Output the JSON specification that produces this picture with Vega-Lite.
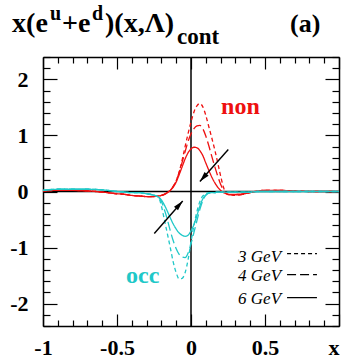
{
  "$schema": "https://vega.github.io/schema/vega-lite/v6.json",
  "width": 296,
  "height": 269,
  "autosize": {"type": "none"},
  "padding": {"left": 43, "top": 57, "right": 6, "bottom": 36},
  "background": "white",
  "config": {
    "view": {"stroke": null},
    "axis": {"grid": false, "domainColor": "black", "domainWidth": 1.5, "tickColor": "black", "tickWidth": 1.2, "labelFont": "Liberation Serif", "labelFontWeight": "bold", "labelFontSize": 22, "labelColor": "black", "labelOverlap": false, "labelFlush": false, "labelBound": false}
  },
  "datasets": {
    "curves": [
      {"x":-1,"y":0.01,"t":"non","q":"3 GeV"},{"x":-0.9,"y":0.02,"t":"non","q":"3 GeV"},{"x":-0.8,"y":0.02,"t":"non","q":"3 GeV"},{"x":-0.7,"y":0.01,"t":"non","q":"3 GeV"},{"x":-0.6,"y":-0.01,"t":"non","q":"3 GeV"},{"x":-0.5,"y":-0.04,"t":"non","q":"3 GeV"},{"x":-0.45,"y":-0.05,"t":"non","q":"3 GeV"},{"x":-0.4,"y":-0.07,"t":"non","q":"3 GeV"},{"x":-0.35,"y":-0.08,"t":"non","q":"3 GeV"},{"x":-0.3,"y":-0.09,"t":"non","q":"3 GeV"},{"x":-0.26,"y":-0.09,"t":"non","q":"3 GeV"},{"x":-0.22,"y":-0.08,"t":"non","q":"3 GeV"},{"x":-0.2,"y":-0.07,"t":"non","q":"3 GeV"},{"x":-0.18,"y":-0.05,"t":"non","q":"3 GeV"},{"x":-0.16,"y":-0.02,"t":"non","q":"3 GeV"},{"x":-0.14,"y":0.02,"t":"non","q":"3 GeV"},{"x":-0.12,"y":0.09,"t":"non","q":"3 GeV"},{"x":-0.1,"y":0.19,"t":"non","q":"3 GeV"},{"x":-0.08,"y":0.35,"t":"non","q":"3 GeV"},{"x":-0.06,"y":0.56,"t":"non","q":"3 GeV"},{"x":-0.04,"y":0.8,"t":"non","q":"3 GeV"},{"x":-0.02,"y":1.03,"t":"non","q":"3 GeV"},{"x":0,"y":1.24,"t":"non","q":"3 GeV"},{"x":0.02,"y":1.42,"t":"non","q":"3 GeV"},{"x":0.04,"y":1.53,"t":"non","q":"3 GeV"},{"x":0.06,"y":1.57,"t":"non","q":"3 GeV"},{"x":0.08,"y":1.51,"t":"non","q":"3 GeV"},{"x":0.1,"y":1.36,"t":"non","q":"3 GeV"},{"x":0.12,"y":1.16,"t":"non","q":"3 GeV"},{"x":0.14,"y":0.96,"t":"non","q":"3 GeV"},{"x":0.16,"y":0.75,"t":"non","q":"3 GeV"},{"x":0.18,"y":0.52,"t":"non","q":"3 GeV"},{"x":0.2,"y":0.28,"t":"non","q":"3 GeV"},{"x":0.22,"y":0.07,"t":"non","q":"3 GeV"},{"x":0.24,"y":-0.04,"t":"non","q":"3 GeV"},{"x":0.26,"y":-0.06,"t":"non","q":"3 GeV"},{"x":0.3,"y":-0.07,"t":"non","q":"3 GeV"},{"x":0.35,"y":-0.05,"t":"non","q":"3 GeV"},{"x":0.4,"y":-0.02,"t":"non","q":"3 GeV"},{"x":0.45,"y":0.01,"t":"non","q":"3 GeV"},{"x":0.5,"y":0.02,"t":"non","q":"3 GeV"},{"x":0.6,"y":0.02,"t":"non","q":"3 GeV"},{"x":0.7,"y":0.01,"t":"non","q":"3 GeV"},{"x":0.8,"y":0,"t":"non","q":"3 GeV"},{"x":0.9,"y":0,"t":"non","q":"3 GeV"},{"x":1,"y":0,"t":"non","q":"3 GeV"},
      {"x":-1,"y":0.01,"t":"non","q":"4 GeV"},{"x":-0.9,"y":0.02,"t":"non","q":"4 GeV"},{"x":-0.8,"y":0.02,"t":"non","q":"4 GeV"},{"x":-0.7,"y":0.01,"t":"non","q":"4 GeV"},{"x":-0.6,"y":-0.01,"t":"non","q":"4 GeV"},{"x":-0.5,"y":-0.04,"t":"non","q":"4 GeV"},{"x":-0.45,"y":-0.05,"t":"non","q":"4 GeV"},{"x":-0.4,"y":-0.07,"t":"non","q":"4 GeV"},{"x":-0.35,"y":-0.08,"t":"non","q":"4 GeV"},{"x":-0.3,"y":-0.09,"t":"non","q":"4 GeV"},{"x":-0.26,"y":-0.09,"t":"non","q":"4 GeV"},{"x":-0.22,"y":-0.08,"t":"non","q":"4 GeV"},{"x":-0.2,"y":-0.07,"t":"non","q":"4 GeV"},{"x":-0.18,"y":-0.05,"t":"non","q":"4 GeV"},{"x":-0.16,"y":-0.02,"t":"non","q":"4 GeV"},{"x":-0.14,"y":0.02,"t":"non","q":"4 GeV"},{"x":-0.12,"y":0.09,"t":"non","q":"4 GeV"},{"x":-0.1,"y":0.19,"t":"non","q":"4 GeV"},{"x":-0.08,"y":0.34,"t":"non","q":"4 GeV"},{"x":-0.06,"y":0.52,"t":"non","q":"4 GeV"},{"x":-0.04,"y":0.71,"t":"non","q":"4 GeV"},{"x":-0.02,"y":0.89,"t":"non","q":"4 GeV"},{"x":0,"y":1.03,"t":"non","q":"4 GeV"},{"x":0.02,"y":1.12,"t":"non","q":"4 GeV"},{"x":0.04,"y":1.17,"t":"non","q":"4 GeV"},{"x":0.06,"y":1.18,"t":"non","q":"4 GeV"},{"x":0.08,"y":1.12,"t":"non","q":"4 GeV"},{"x":0.1,"y":0.99,"t":"non","q":"4 GeV"},{"x":0.12,"y":0.82,"t":"non","q":"4 GeV"},{"x":0.14,"y":0.63,"t":"non","q":"4 GeV"},{"x":0.16,"y":0.45,"t":"non","q":"4 GeV"},{"x":0.18,"y":0.28,"t":"non","q":"4 GeV"},{"x":0.2,"y":0.13,"t":"non","q":"4 GeV"},{"x":0.22,"y":0.02,"t":"non","q":"4 GeV"},{"x":0.24,"y":-0.04,"t":"non","q":"4 GeV"},{"x":0.26,"y":-0.06,"t":"non","q":"4 GeV"},{"x":0.3,"y":-0.06,"t":"non","q":"4 GeV"},{"x":0.35,"y":-0.05,"t":"non","q":"4 GeV"},{"x":0.4,"y":-0.02,"t":"non","q":"4 GeV"},{"x":0.45,"y":0.01,"t":"non","q":"4 GeV"},{"x":0.5,"y":0.02,"t":"non","q":"4 GeV"},{"x":0.6,"y":0.02,"t":"non","q":"4 GeV"},{"x":0.7,"y":0.01,"t":"non","q":"4 GeV"},{"x":0.8,"y":0,"t":"non","q":"4 GeV"},{"x":0.9,"y":0,"t":"non","q":"4 GeV"},{"x":1,"y":0,"t":"non","q":"4 GeV"},
      {"x":-1,"y":0.01,"t":"non","q":"6 GeV"},{"x":-0.9,"y":0.02,"t":"non","q":"6 GeV"},{"x":-0.8,"y":0.02,"t":"non","q":"6 GeV"},{"x":-0.7,"y":0.01,"t":"non","q":"6 GeV"},{"x":-0.6,"y":-0.01,"t":"non","q":"6 GeV"},{"x":-0.5,"y":-0.04,"t":"non","q":"6 GeV"},{"x":-0.45,"y":-0.05,"t":"non","q":"6 GeV"},{"x":-0.4,"y":-0.07,"t":"non","q":"6 GeV"},{"x":-0.35,"y":-0.08,"t":"non","q":"6 GeV"},{"x":-0.3,"y":-0.09,"t":"non","q":"6 GeV"},{"x":-0.26,"y":-0.09,"t":"non","q":"6 GeV"},{"x":-0.22,"y":-0.08,"t":"non","q":"6 GeV"},{"x":-0.2,"y":-0.07,"t":"non","q":"6 GeV"},{"x":-0.18,"y":-0.05,"t":"non","q":"6 GeV"},{"x":-0.16,"y":-0.02,"t":"non","q":"6 GeV"},{"x":-0.14,"y":0.02,"t":"non","q":"6 GeV"},{"x":-0.12,"y":0.08,"t":"non","q":"6 GeV"},{"x":-0.1,"y":0.17,"t":"non","q":"6 GeV"},{"x":-0.08,"y":0.3,"t":"non","q":"6 GeV"},{"x":-0.06,"y":0.44,"t":"non","q":"6 GeV"},{"x":-0.04,"y":0.58,"t":"non","q":"6 GeV"},{"x":-0.02,"y":0.69,"t":"non","q":"6 GeV"},{"x":0,"y":0.76,"t":"non","q":"6 GeV"},{"x":0.02,"y":0.79,"t":"non","q":"6 GeV"},{"x":0.04,"y":0.78,"t":"non","q":"6 GeV"},{"x":0.06,"y":0.73,"t":"non","q":"6 GeV"},{"x":0.08,"y":0.64,"t":"non","q":"6 GeV"},{"x":0.1,"y":0.51,"t":"non","q":"6 GeV"},{"x":0.12,"y":0.38,"t":"non","q":"6 GeV"},{"x":0.14,"y":0.26,"t":"non","q":"6 GeV"},{"x":0.16,"y":0.16,"t":"non","q":"6 GeV"},{"x":0.18,"y":0.08,"t":"non","q":"6 GeV"},{"x":0.2,"y":0.02,"t":"non","q":"6 GeV"},{"x":0.22,"y":-0.02,"t":"non","q":"6 GeV"},{"x":0.24,"y":-0.04,"t":"non","q":"6 GeV"},{"x":0.26,"y":-0.05,"t":"non","q":"6 GeV"},{"x":0.3,"y":-0.05,"t":"non","q":"6 GeV"},{"x":0.35,"y":-0.04,"t":"non","q":"6 GeV"},{"x":0.4,"y":-0.02,"t":"non","q":"6 GeV"},{"x":0.45,"y":0.01,"t":"non","q":"6 GeV"},{"x":0.5,"y":0.02,"t":"non","q":"6 GeV"},{"x":0.6,"y":0.02,"t":"non","q":"6 GeV"},{"x":0.7,"y":0.01,"t":"non","q":"6 GeV"},{"x":0.8,"y":0,"t":"non","q":"6 GeV"},{"x":0.9,"y":0,"t":"non","q":"6 GeV"},{"x":1,"y":0,"t":"non","q":"6 GeV"},
      {"x":-1,"y":0.02,"t":"occ","q":"3 GeV"},{"x":-0.9,"y":0.04,"t":"occ","q":"3 GeV"},{"x":-0.8,"y":0.04,"t":"occ","q":"3 GeV"},{"x":-0.7,"y":0.04,"t":"occ","q":"3 GeV"},{"x":-0.6,"y":0.03,"t":"occ","q":"3 GeV"},{"x":-0.5,"y":0,"t":"occ","q":"3 GeV"},{"x":-0.45,"y":-0.01,"t":"occ","q":"3 GeV"},{"x":-0.4,"y":-0.02,"t":"occ","q":"3 GeV"},{"x":-0.35,"y":-0.02,"t":"occ","q":"3 GeV"},{"x":-0.3,"y":-0.04,"t":"occ","q":"3 GeV"},{"x":-0.26,"y":-0.06,"t":"occ","q":"3 GeV"},{"x":-0.22,"y":-0.1,"t":"occ","q":"3 GeV"},{"x":-0.2,"y":-0.26,"t":"occ","q":"3 GeV"},{"x":-0.18,"y":-0.5,"t":"occ","q":"3 GeV"},{"x":-0.16,"y":-0.75,"t":"occ","q":"3 GeV"},{"x":-0.14,"y":-1,"t":"occ","q":"3 GeV"},{"x":-0.12,"y":-1.26,"t":"occ","q":"3 GeV"},{"x":-0.1,"y":-1.45,"t":"occ","q":"3 GeV"},{"x":-0.08,"y":-1.56,"t":"occ","q":"3 GeV"},{"x":-0.06,"y":-1.55,"t":"occ","q":"3 GeV"},{"x":-0.04,"y":-1.45,"t":"occ","q":"3 GeV"},{"x":-0.02,"y":-1.22,"t":"occ","q":"3 GeV"},{"x":0,"y":-0.9,"t":"occ","q":"3 GeV"},{"x":0.02,"y":-0.6,"t":"occ","q":"3 GeV"},{"x":0.04,"y":-0.36,"t":"occ","q":"3 GeV"},{"x":0.06,"y":-0.18,"t":"occ","q":"3 GeV"},{"x":0.08,"y":-0.08,"t":"occ","q":"3 GeV"},{"x":0.1,"y":-0.04,"t":"occ","q":"3 GeV"},{"x":0.12,"y":-0.02,"t":"occ","q":"3 GeV"},{"x":0.14,"y":-0.02,"t":"occ","q":"3 GeV"},{"x":0.16,"y":-0.02,"t":"occ","q":"3 GeV"},{"x":0.18,"y":-0.01,"t":"occ","q":"3 GeV"},{"x":0.2,"y":-0.01,"t":"occ","q":"3 GeV"},{"x":0.22,"y":-0.01,"t":"occ","q":"3 GeV"},{"x":0.24,"y":-0.01,"t":"occ","q":"3 GeV"},{"x":0.26,"y":-0.01,"t":"occ","q":"3 GeV"},{"x":0.3,"y":-0.01,"t":"occ","q":"3 GeV"},{"x":0.35,"y":-0.01,"t":"occ","q":"3 GeV"},{"x":0.4,"y":-0.01,"t":"occ","q":"3 GeV"},{"x":0.45,"y":0,"t":"occ","q":"3 GeV"},{"x":0.5,"y":0,"t":"occ","q":"3 GeV"},{"x":0.6,"y":0,"t":"occ","q":"3 GeV"},{"x":0.7,"y":0,"t":"occ","q":"3 GeV"},{"x":0.8,"y":0,"t":"occ","q":"3 GeV"},{"x":0.9,"y":0,"t":"occ","q":"3 GeV"},{"x":1,"y":0,"t":"occ","q":"3 GeV"},
      {"x":-1,"y":0.02,"t":"occ","q":"4 GeV"},{"x":-0.9,"y":0.04,"t":"occ","q":"4 GeV"},{"x":-0.8,"y":0.04,"t":"occ","q":"4 GeV"},{"x":-0.7,"y":0.04,"t":"occ","q":"4 GeV"},{"x":-0.6,"y":0.03,"t":"occ","q":"4 GeV"},{"x":-0.5,"y":0,"t":"occ","q":"4 GeV"},{"x":-0.45,"y":-0.01,"t":"occ","q":"4 GeV"},{"x":-0.4,"y":-0.02,"t":"occ","q":"4 GeV"},{"x":-0.35,"y":-0.02,"t":"occ","q":"4 GeV"},{"x":-0.3,"y":-0.04,"t":"occ","q":"4 GeV"},{"x":-0.26,"y":-0.06,"t":"occ","q":"4 GeV"},{"x":-0.22,"y":-0.1,"t":"occ","q":"4 GeV"},{"x":-0.2,"y":-0.18,"t":"occ","q":"4 GeV"},{"x":-0.18,"y":-0.32,"t":"occ","q":"4 GeV"},{"x":-0.16,"y":-0.5,"t":"occ","q":"4 GeV"},{"x":-0.14,"y":-0.7,"t":"occ","q":"4 GeV"},{"x":-0.12,"y":-0.88,"t":"occ","q":"4 GeV"},{"x":-0.1,"y":-1.02,"t":"occ","q":"4 GeV"},{"x":-0.08,"y":-1.12,"t":"occ","q":"4 GeV"},{"x":-0.06,"y":-1.17,"t":"occ","q":"4 GeV"},{"x":-0.04,"y":-1.18,"t":"occ","q":"4 GeV"},{"x":-0.02,"y":-1.1,"t":"occ","q":"4 GeV"},{"x":0,"y":-0.93,"t":"occ","q":"4 GeV"},{"x":0.02,"y":-0.73,"t":"occ","q":"4 GeV"},{"x":0.04,"y":-0.52,"t":"occ","q":"4 GeV"},{"x":0.06,"y":-0.32,"t":"occ","q":"4 GeV"},{"x":0.08,"y":-0.16,"t":"occ","q":"4 GeV"},{"x":0.1,"y":-0.07,"t":"occ","q":"4 GeV"},{"x":0.12,"y":-0.03,"t":"occ","q":"4 GeV"},{"x":0.14,"y":-0.02,"t":"occ","q":"4 GeV"},{"x":0.16,"y":-0.02,"t":"occ","q":"4 GeV"},{"x":0.18,"y":-0.01,"t":"occ","q":"4 GeV"},{"x":0.2,"y":-0.01,"t":"occ","q":"4 GeV"},{"x":0.22,"y":-0.01,"t":"occ","q":"4 GeV"},{"x":0.24,"y":-0.01,"t":"occ","q":"4 GeV"},{"x":0.26,"y":-0.01,"t":"occ","q":"4 GeV"},{"x":0.3,"y":-0.01,"t":"occ","q":"4 GeV"},{"x":0.35,"y":-0.01,"t":"occ","q":"4 GeV"},{"x":0.4,"y":-0.01,"t":"occ","q":"4 GeV"},{"x":0.45,"y":0,"t":"occ","q":"4 GeV"},{"x":0.5,"y":0,"t":"occ","q":"4 GeV"},{"x":0.6,"y":0,"t":"occ","q":"4 GeV"},{"x":0.7,"y":0,"t":"occ","q":"4 GeV"},{"x":0.8,"y":0,"t":"occ","q":"4 GeV"},{"x":0.9,"y":0,"t":"occ","q":"4 GeV"},{"x":1,"y":0,"t":"occ","q":"4 GeV"},
      {"x":-1,"y":0.02,"t":"occ","q":"6 GeV"},{"x":-0.9,"y":0.04,"t":"occ","q":"6 GeV"},{"x":-0.8,"y":0.04,"t":"occ","q":"6 GeV"},{"x":-0.7,"y":0.04,"t":"occ","q":"6 GeV"},{"x":-0.6,"y":0.03,"t":"occ","q":"6 GeV"},{"x":-0.5,"y":0,"t":"occ","q":"6 GeV"},{"x":-0.45,"y":-0.01,"t":"occ","q":"6 GeV"},{"x":-0.4,"y":-0.02,"t":"occ","q":"6 GeV"},{"x":-0.35,"y":-0.02,"t":"occ","q":"6 GeV"},{"x":-0.3,"y":-0.04,"t":"occ","q":"6 GeV"},{"x":-0.26,"y":-0.06,"t":"occ","q":"6 GeV"},{"x":-0.22,"y":-0.1,"t":"occ","q":"6 GeV"},{"x":-0.2,"y":-0.15,"t":"occ","q":"6 GeV"},{"x":-0.18,"y":-0.24,"t":"occ","q":"6 GeV"},{"x":-0.16,"y":-0.35,"t":"occ","q":"6 GeV"},{"x":-0.14,"y":-0.47,"t":"occ","q":"6 GeV"},{"x":-0.12,"y":-0.58,"t":"occ","q":"6 GeV"},{"x":-0.1,"y":-0.67,"t":"occ","q":"6 GeV"},{"x":-0.08,"y":-0.74,"t":"occ","q":"6 GeV"},{"x":-0.06,"y":-0.78,"t":"occ","q":"6 GeV"},{"x":-0.04,"y":-0.8,"t":"occ","q":"6 GeV"},{"x":-0.02,"y":-0.78,"t":"occ","q":"6 GeV"},{"x":0,"y":-0.7,"t":"occ","q":"6 GeV"},{"x":0.02,"y":-0.59,"t":"occ","q":"6 GeV"},{"x":0.04,"y":-0.43,"t":"occ","q":"6 GeV"},{"x":0.06,"y":-0.26,"t":"occ","q":"6 GeV"},{"x":0.08,"y":-0.13,"t":"occ","q":"6 GeV"},{"x":0.1,"y":-0.06,"t":"occ","q":"6 GeV"},{"x":0.12,"y":-0.03,"t":"occ","q":"6 GeV"},{"x":0.14,"y":-0.02,"t":"occ","q":"6 GeV"},{"x":0.16,"y":-0.02,"t":"occ","q":"6 GeV"},{"x":0.18,"y":-0.01,"t":"occ","q":"6 GeV"},{"x":0.2,"y":-0.01,"t":"occ","q":"6 GeV"},{"x":0.22,"y":-0.01,"t":"occ","q":"6 GeV"},{"x":0.24,"y":-0.01,"t":"occ","q":"6 GeV"},{"x":0.26,"y":-0.01,"t":"occ","q":"6 GeV"},{"x":0.3,"y":-0.01,"t":"occ","q":"6 GeV"},{"x":0.35,"y":-0.01,"t":"occ","q":"6 GeV"},{"x":0.4,"y":-0.01,"t":"occ","q":"6 GeV"},{"x":0.45,"y":0,"t":"occ","q":"6 GeV"},{"x":0.5,"y":0,"t":"occ","q":"6 GeV"},{"x":0.6,"y":0,"t":"occ","q":"6 GeV"},{"x":0.7,"y":0,"t":"occ","q":"6 GeV"},{"x":0.8,"y":0,"t":"occ","q":"6 GeV"},{"x":0.9,"y":0,"t":"occ","q":"6 GeV"},{"x":1,"y":0,"t":"occ","q":"6 GeV"}
    ],
    "arrows": [
      {"x": 0.252, "y": 0.75, "x2": 0.06, "y2": 0.18},
      {"x": -0.248, "y": -0.75, "x2": -0.056, "y2": -0.17}
    ],
    "legend": [
      {"q": "3 GeV", "x": 0.649, "x2": 0.851, "y": -1.107, "ty": -1.16},
      {"q": "4 GeV", "x": 0.649, "x2": 0.851, "y": -1.482, "ty": -1.51},
      {"q": "6 GeV", "x": 0.649, "x2": 0.851, "y": -1.893, "ty": -1.91}
    ],
    "labels": [
      {"s": "non", "t": "non", "x": 0.203, "y": 1.375},
      {"s": "occ", "t": "occ", "x": -0.439, "y": -1.625}
    ],
    "title": [
      {"s": "x(e", "x": -1.209, "y": 2.839},
      {"s": "+e", "x": -0.872, "y": 2.839},
      {"s": ")(x,Λ)", "x": -0.581, "y": 2.839}
    ],
    "sup": [
      {"s": "u", "x": -0.953, "y": 3.054},
      {"s": "d", "x": -0.669, "y": 3.054}
    ],
    "sub": [
      {"s": "cont", "x": -0.095, "y": 2.625}
    ],
    "panel": [
      {"s": "(a)", "x": 0.669, "y": 2.839}
    ]
  },
  "layer": [
    {
      "data": {"values": [{"v": 0}]},
      "mark": {"type": "rule", "color": "black", "strokeWidth": 1.5},
      "encoding": {
        "x": {"field": "v", "type": "quantitative", "scale": {"domain": [-1, 1], "nice": false, "zero": false}, "axis": null}
      }
    },
    {
      "data": {"values": [{"v": 0}]},
      "mark": {"type": "rule", "color": "black", "strokeWidth": 1.5},
      "encoding": {
        "y": {"field": "v", "type": "quantitative", "scale": {"domain": [-2.4, 2.4], "nice": false, "zero": false}, "axis": null}
      }
    },
    {
      "data": {"name": "curves"},
      "mark": {"type": "line", "interpolate": "monotone", "strokeWidth": 1.3},
      "encoding": {
        "x": {"field": "x", "type": "quantitative", "scale": {"domain": [-1, 1], "nice": false, "zero": false},
          "axis": {"orient": "bottom", "title": null, "values": [-1,-0.9,-0.8,-0.7,-0.6,-0.5,-0.4,-0.3,-0.2,-0.1,0,0.1,0.2,0.3,0.4,0.5,0.6,0.7,0.8,0.9,1],
            "tickSize": {"condition": {"test": "abs(datum.value*2-round(datum.value*2))<0.001", "value": -12}, "value": -6},
            "labelExpr": "abs(datum.value-1)<0.001 ? 'x' : (abs(datum.value*2-round(datum.value*2))<0.001 ? toString(datum.value) : '')",
            "labelAlign": {"condition": {"test": "datum.value > 0.99", "value": "right"}, "value": "center"},
            "labelPadding": 23}},
        "y": {"field": "y", "type": "quantitative", "scale": {"domain": [-2.4, 2.4], "nice": false, "zero": false},
          "axis": {"orient": "left", "title": null, "values": [-2.4,-2.2,-2,-1.8,-1.6,-1.4,-1.2,-1,-0.8,-0.6,-0.4,-0.2,0,0.2,0.4,0.6,0.8,1,1.2,1.4,1.6,1.8,2,2.2,2.4],
            "tickSize": {"condition": {"test": "abs(datum.value-round(datum.value))<0.001", "value": -14}, "value": -7},
            "labelExpr": "abs(datum.value-round(datum.value))<0.001 ? toString(datum.value) : ''",
            "labelPadding": 29}},
        "color": {"field": "t", "type": "nominal", "scale": {"domain": ["non", "occ"], "range": ["#ee1010", "#20c8c8"]}, "legend": null},
        "strokeDash": {"field": "q", "type": "nominal", "scale": {"domain": ["3 GeV", "4 GeV", "6 GeV"], "range": [[4, 3], [9, 4], [1, 0]]}, "legend": null}
      }
    },
    {
      "data": {"name": "arrows"},
      "mark": {"type": "rule", "color": "black", "strokeWidth": 1.4},
      "encoding": {
        "x": {"field": "x", "type": "quantitative", "scale": {"domain": [-1, 1], "nice": false, "zero": false},
          "axis": {"orient": "top", "title": null, "labels": false, "values": [-1,-0.9,-0.8,-0.7,-0.6,-0.5,-0.4,-0.3,-0.2,-0.1,0,0.1,0.2,0.3,0.4,0.5,0.6,0.7,0.8,0.9,1],
            "tickSize": {"condition": {"test": "abs(datum.value*2-round(datum.value*2))<0.001", "value": -12}, "value": -6}}},
        "y": {"field": "y", "type": "quantitative", "scale": {"domain": [-2.4, 2.4], "nice": false, "zero": false},
          "axis": {"orient": "right", "title": null, "labels": false, "values": [-2.4,-2.2,-2,-1.8,-1.6,-1.4,-1.2,-1,-0.8,-0.6,-0.4,-0.2,0,0.2,0.4,0.6,0.8,1,1.2,1.4,1.6,1.8,2,2.2,2.4],
            "tickSize": {"condition": {"test": "abs(datum.value-round(datum.value))<0.001", "value": -14}, "value": -7}}},
        "x2": {"field": "x2"},
        "y2": {"field": "y2"}
      }
    },
    {
      "data": {"name": "arrows"},
      "mark": {"type": "point", "shape": "M0,0L-0.35,1.3L0.35,1.3Z", "filled": true, "color": "black", "opacity": 1, "size": 240, "strokeWidth": 0},
      "encoding": {
        "x": {"field": "x2", "type": "quantitative", "scale": {"domain": [-1, 1], "nice": false, "zero": false}, "axis": null},
        "y": {"field": "y2", "type": "quantitative", "scale": {"domain": [-2.4, 2.4], "nice": false, "zero": false}, "axis": null},
        "angle": {"condition": {"test": "datum.y2 < 0", "value": 41.8}, "value": 221.8}
      }
    },
    {
      "data": {"name": "legend"},
      "mark": {"type": "rule", "color": "black", "strokeWidth": 1.2},
      "encoding": {
        "x": {"field": "x", "type": "quantitative", "scale": {"domain": [-1, 1], "nice": false, "zero": false}, "axis": null},
        "x2": {"field": "x2"},
        "y": {"field": "y", "type": "quantitative", "scale": {"domain": [-2.4, 2.4], "nice": false, "zero": false}, "axis": null},
        "strokeDash": {"field": "q", "type": "nominal", "legend": null}
      }
    },
    {
      "data": {"name": "legend"},
      "mark": {"type": "text", "align": "right", "baseline": "middle", "font": "Liberation Serif", "fontStyle": "italic", "fontSize": 17, "color": "black"},
      "encoding": {
        "x": {"field": "x", "type": "quantitative", "scale": {"domain": [-1, 1], "nice": false, "zero": false}, "axis": null},
        "y": {"field": "ty", "type": "quantitative", "scale": {"domain": [-2.4, 2.4], "nice": false, "zero": false}, "axis": null},
        "text": {"field": "q"},
        "xOffset": {"value": -6}
      }
    },
    {
      "data": {"name": "labels"},
      "mark": {"type": "text", "align": "left", "baseline": "alphabetic", "font": "Liberation Serif", "fontWeight": "bold", "fontSize": 24},
      "encoding": {
        "x": {"field": "x", "type": "quantitative", "scale": {"domain": [-1, 1], "nice": false, "zero": false}, "axis": null},
        "y": {"field": "y", "type": "quantitative", "scale": {"domain": [-2.4, 2.4], "nice": false, "zero": false}, "axis": null},
        "text": {"field": "s"},
        "color": {"field": "t", "type": "nominal", "legend": null}
      }
    },
    {
      "data": {"name": "title"},
      "mark": {"type": "text", "align": "left", "baseline": "alphabetic", "font": "Liberation Serif", "fontWeight": "bold", "fontSize": 28, "color": "black"},
      "encoding": {
        "x": {"field": "x", "type": "quantitative", "scale": {"domain": [-1, 1], "nice": false, "zero": false}, "axis": null},
        "y": {"field": "y", "type": "quantitative", "scale": {"domain": [-2.4, 2.4], "nice": false, "zero": false}, "axis": null},
        "text": {"field": "s"}
      }
    },
    {
      "data": {"name": "sup"},
      "mark": {"type": "text", "align": "left", "baseline": "alphabetic", "font": "Liberation Serif", "fontWeight": "bold", "fontSize": 20, "color": "black"},
      "encoding": {
        "x": {"field": "x", "type": "quantitative", "scale": {"domain": [-1, 1], "nice": false, "zero": false}, "axis": null},
        "y": {"field": "y", "type": "quantitative", "scale": {"domain": [-2.4, 2.4], "nice": false, "zero": false}, "axis": null},
        "text": {"field": "s"}
      }
    },
    {
      "data": {"name": "sub"},
      "mark": {"type": "text", "align": "left", "baseline": "alphabetic", "font": "Liberation Serif", "fontWeight": "bold", "fontSize": 23, "color": "black"},
      "encoding": {
        "x": {"field": "x", "type": "quantitative", "scale": {"domain": [-1, 1], "nice": false, "zero": false}, "axis": null},
        "y": {"field": "y", "type": "quantitative", "scale": {"domain": [-2.4, 2.4], "nice": false, "zero": false}, "axis": null},
        "text": {"field": "s"}
      }
    },
    {
      "data": {"name": "panel"},
      "mark": {"type": "text", "align": "left", "baseline": "alphabetic", "font": "Liberation Serif", "fontWeight": "bold", "fontSize": 26, "color": "black"},
      "encoding": {
        "x": {"field": "x", "type": "quantitative", "scale": {"domain": [-1, 1], "nice": false, "zero": false}, "axis": null},
        "y": {"field": "y", "type": "quantitative", "scale": {"domain": [-2.4, 2.4], "nice": false, "zero": false}, "axis": null},
        "text": {"field": "s"}
      }
    }
  ]
}
